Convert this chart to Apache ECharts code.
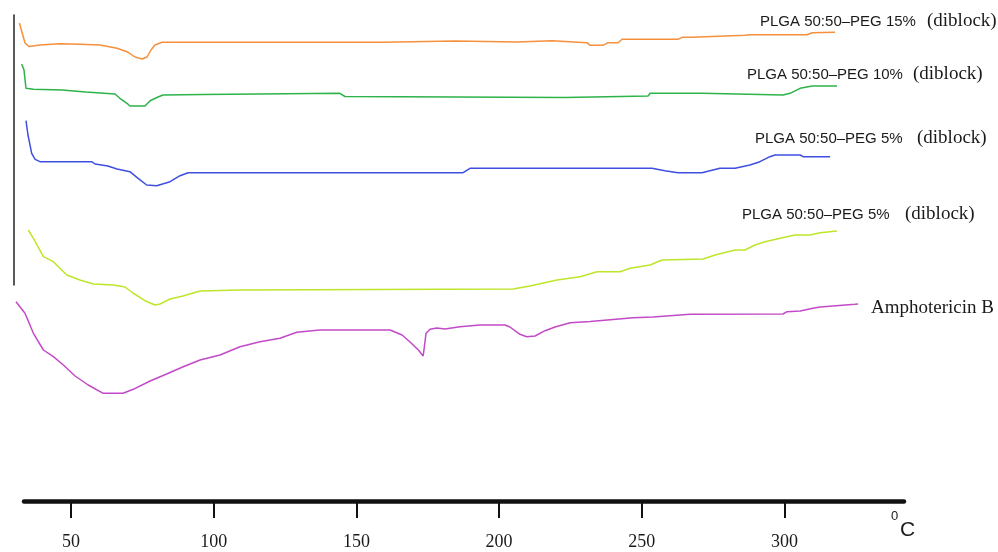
<!DOCTYPE html>
<html>
<head>
<meta charset="utf-8">
<script src="https://cdn.jsdelivr.net/npm/echarts@6/dist/echarts.min.js"></script>
<style>html,body{margin:0;padding:0;background:#fff}#c{width:998px;height:552px}</style>
</head>
<body>
<div id="c"></div>
<script>
// Temperature (°C) and heat-flow (arbitrary units, stacked offsets)
const peg15 = [[31.9,478],[33.85,458],[35.25,454.5],[39.1,456],[46.1,457.3],[53.1,456.7],[60.1,456],[66.1,452.7],[69.6,449.3],[72.4,444],[74.9,442],[76.6,444],[78.0,451],[79.4,456],[81.9,458.7],[159.3,458.7],[160.0,460],[184.5,460],[185.2,459],[206.3,459],[207.0,460.3],[218.5,460.3],[219.2,458.3],[230.8,458.3],[231.9,455.7],[236.4,455.7],[238.2,458.3],[241.7,458.3],[243.1,461.7],[262.7,461.7],[264.1,463.7],[267.6,463.7],[268.3,465.7],[286.2,465.7],[287.9,466.3],[307.9,466.3],[309.7,468.3],[317.7,468.7]];
const peg10 = [[32.7,437],[33.5,431],[34.2,412.7],[36.8,411.7],[46.8,411],[47.5,409],[55.2,409],[55.9,407.5],[65.4,407],[67.1,402.7],[69.6,397.7],[70.6,395],[75.9,395],[77.7,400.3],[80.5,404],[82.2,406],[96.2,406.5],[96.9,408],[144.2,407.7],[146.0,404.5],[223.1,403.5],[223.8,405],[252.2,405],[252.9,407.7],[271.1,407.7],[271.8,406],[299.5,406],[302.0,407.7],[305.5,412.7],[309.7,415],[318.4,415]];
const peg5a = [[34.2,380.3],[34.9,366],[36.2,347.7],[37.4,341.7],[39.1,339.3],[57.2,339.3],[58.4,337],[62.9,335],[66.1,332],[70.6,329.3],[73.5,322.7],[76.5,316],[80.0,315.3],[84.7,319.3],[88.2,325.3],[91.0,328.3],[187.4,328.3],[189.8,332.7],[253.6,332.7],[258.1,330.3],[262.7,328.3],[271.1,328.3],[273.9,330.3],[277.4,332.7],[282.7,332.7],[287.9,336],[291.4,339.3],[294.9,344.3],[296.7,346],[305.5,346],[306.5,344.3],[316.0,344.3]];
const peg5b = [[35.0,271],[36.8,262.7],[40.3,244.3],[43.8,239.3],[48.5,226],[53.1,221],[57.8,217],[64.8,216],[68.9,214],[71.7,208],[75.9,200.3],[79.4,196],[81.2,197],[84.7,202],[89.2,205],[95.2,210],[109.2,211],[204.9,212],[210.8,215],[220.3,221],[228.4,224.3],[234.3,229.3],[242.4,229.3],[245.9,232.7],[252.9,236],[257.1,241],[271.5,242],[275.7,246],[282.7,251],[286.2,251],[289.7,256],[293.2,259.3],[298.5,262.7],[303.7,266],[309.0,266],[312.5,268.3],[318.4,270]];
const amphoB = [[30.7,199.3],[33.85,187.7],[36.8,167.7],[40.3,151],[43.8,144.3],[47.3,136],[51.4,125],[56.0,116],[61.3,107.7],[68.2,107.7],[71.8,111.7],[77.7,120],[83.5,127],[89.3,134.3],[95.2,141],[102.2,146],[109.2,154.3],[116.2,159.3],[123.2,162.7],[129.1,168.7],[137.2,171],[161.8,171],[166.0,166],[168.8,159],[171.7,151],[173.4,145],[174.0,145],[174.4,167.7],[175.8,171.7],[178.2,173],[181.0,172],[186.3,174.3],[193.3,176],[202.1,176],[203.8,174],[207.3,166.7],[209.7,164.3],[212.6,165],[216.1,170.3],[219.6,174],[224.9,178.3],[231.9,179.5],[247.0,183.3],[254.0,184],[266.9,186.7],[299.5,187],[300.9,189.3],[305.5,190],[310.0,192.7],[312.5,194],[317.0,195],[324.7,196.7],[325.8,197]];
const tickValues = [50, 100, 150, 200, 250, 300];
const seriesNames = ['PLGA 50:50–PEG 15% (diblock)','PLGA 50:50–PEG 10% (diblock)','PLGA 50:50–PEG 5% (diblock)','PLGA 50:50–PEG 5% (diblock) ','Amphotericin B'];
const seriesColors = ['#f5903c','#2db34a','#3f4fe0','#bde62a','#c24ac8'];

const chart = echarts.init(document.getElementById('c'), null, {renderer:'canvas'});
const dataSets = [peg15, peg10, peg5a, peg5b, amphoB];
const sans = 'Liberation Sans, Arial, sans-serif';
const serif = 'Liberation Serif, Times New Roman, serif';
function lbl(x, y, text, font, size) {
  return {type:'text', left:x, top:y - size/2 - 1, silent:true,
    style:{text:text, fontFamily:font, fontSize:size, fill:'#1a1a1a'}};
}
chart.setOption({
  animation:false,
  backgroundColor:'#ffffff',
  grid:[
    {left:14, right:94, top:0, bottom:51},
    {left:14, top:15, height:270, width:1},
    {left:24, right:94, top:0, bottom:51}
  ],
  xAxis:[
    {type:'value', gridIndex:0, min:30.0, max:341.9, show:false},
    {type:'value', gridIndex:1, show:false, min:0, max:1},
    {type:'value', gridIndex:2, min:33.5, max:341.9,
     axisLine:{show:true, lineStyle:{color:'#111', width:4.5}},
     axisTick:{show:true, customValues:tickValues, length:17, lineStyle:{color:'#111', width:2}},
     axisLabel:{show:true, customValues:tickValues, margin:32, fontFamily:serif, fontSize:18, color:'#1a1a1a'},
     splitLine:{show:false}}
  ],
  yAxis:[
    {type:'value', gridIndex:0, min:0, max:501, show:false},
    {type:'value', gridIndex:1, min:0, max:1,
     axisLine:{show:true, lineStyle:{color:'#222', width:1.5}},
     axisTick:{show:false}, axisLabel:{show:false}, splitLine:{show:false}},
    {type:'value', gridIndex:2, min:0, max:1, show:false}
  ],
  series: dataSets.map((d, i) => ({
    name: seriesNames[i], type:'line', xAxisIndex:0, yAxisIndex:0,
    data:d, symbol:'none', smooth:false, clip:false,
    lineStyle:{color:seriesColors[i], width:1.5}
  })),
  graphic:[
    lbl(760, 23, 'PLGA 50:50–PEG 15%', sans, 15),
    lbl(927, 22, '(diblock)', serif, 19),
    lbl(747, 76, 'PLGA 50:50–PEG 10%', sans, 15),
    lbl(913, 75, '(diblock)', serif, 19),
    lbl(755, 140, 'PLGA 50:50–PEG 5%', sans, 15),
    lbl(917, 139, '(diblock)', serif, 19),
    lbl(742, 216, 'PLGA 50:50–PEG 5%', sans, 15),
    lbl(905, 215, '(diblock)', serif, 19),
    lbl(871, 309, 'Amphotericin B', serif, 19),
    lbl(891, 517, '0', sans, 13),
    lbl(900, 531, 'C', sans, 21)
  ]
});
</script>
</body>
</html>
